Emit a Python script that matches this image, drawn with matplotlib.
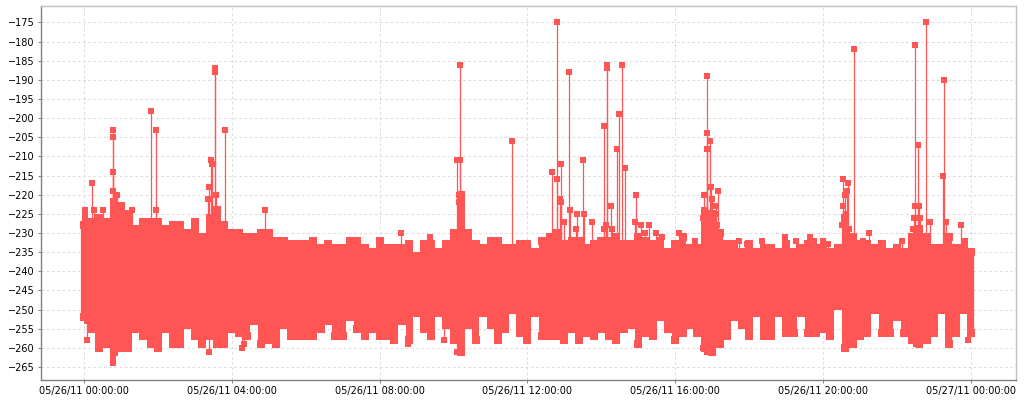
import numpy as np
import pandas as pd
import matplotlib
matplotlib.use('Agg')
import matplotlib.pyplot as plt
import matplotlib.dates as mdates

# upper and lower edge of the dense band, one reading every 12 minutes
band_high = [-228, -227, -226, -227, -222, -223, -225, -229, -227, -227, -227, -229, -228, -228, -230, -227,
             -231, -226, -224, -228, -230, -230, -231, -231, -230, -230, -232, -232, -233, -233, -233,
             -232, -234, -233, -234, -234, -232, -232, -234, -235, -232, -234, -234, -234, -233, -236,
             -233, -233, -235, -233, -230, -220, -230, -233, -234, -232, -232, -234, -234, -233, -233,
             -235, -232, -231, -230, -233, -232, -232, -234, -233, -232, -232, -231, -233, -233, -231,
             -232, -233, -232, -235, -233, -231, -234, -234, -225, -225, -230, -233, -233, -235, -233,
             -235, -234, -234, -235, -233, -235, -234, -233, -234, -234, -235, -234, -226, -231, -233,
             -233, -234, -233, -235, -234, -235, -231, -229, -231, -234, -234, -231, -234, -234, -235]
band_low = [-252, -255, -260, -259, -261, -260, -260, -255, -257, -259, -260, -255, -259, -259, -254, -257,
            -259, -257, -259, -259, -255, -256, -257, -253, -259, -258, -259, -254, -257, -257, -257,
            -257, -255, -253, -257, -257, -252, -255, -257, -255, -257, -257, -258, -253, -258, -251,
            -255, -257, -251, -254, -258, -261, -254, -258, -251, -254, -258, -255, -250, -256, -258,
            -251, -257, -257, -257, -258, -255, -258, -256, -257, -255, -257, -258, -255, -254, -259,
            -256, -257, -252, -255, -258, -256, -254, -256, -260, -261, -259, -257, -252, -254, -257,
            -251, -257, -257, -251, -256, -256, -251, -256, -256, -255, -257, -249, -260, -259, -257,
            -256, -250, -256, -256, -252, -256, -258, -259, -258, -256, -250, -259, -256, -250, -256]

# single readings that stand clear of the band
peak_hours = [0.22, 0.03, 0.03, 0.03, 0.27, 0.51, 0.78, 0.78, 0.78, 0.78, 0.88, 0.97, 1.30, 1.80, 1.95, 1.96,
              3.54, 3.54, 3.44, 3.46, 3.38, 3.35, 3.56, 3.81, 4.89, 8.58, 9.36,
              10.09, 10.17, 10.17, 10.15, 10.15, 10.17, 11.58,
              12.66, 12.79, 12.80, 12.91, 12.88, 12.92, 12.99, 13.12, 13.15, 13.31, 13.34, 13.49, 13.53, 13.74,
              14.07, 14.07, 14.12, 14.14, 14.14, 14.27, 14.29, 14.41, 14.49, 14.57, 14.64, 14.93, 14.91,
              15.07, 15.18, 15.29, 15.48, 15.63, 16.10, 16.53,
              16.75, 16.79, 16.79, 16.85, 16.86, 16.87, 16.93, 16.96, 16.99, 17.10, 17.10, 17.12, 17.15,
              17.72, 17.93, 18.34, 18.97, 19.26, 19.64, 19.75, 20.01, 20.13,
              20.51, 20.54, 20.54, 20.59, 20.61, 20.66, 20.68, 20.70, 20.83, 21.08, 21.24, 22.13,
              22.43, 22.46, 22.48, 22.48, 22.56, 22.59, 22.62, 22.78, 22.89, 23.24, 23.26, 23.32, 23.73, 23.84]
peak_values = [-217, -224, -225, -226, -224, -224, -203, -205, -214, -219, -220, -223, -224, -198, -203, -224,
               -187, -188, -211, -212, -218, -221, -220, -203, -224, -230, -231,
               -211, -211, -186, -220, -222, -224, -206,
               -214, -216, -175, -212, -221, -222, -227, -188, -224, -229, -225, -211, -225, -227,
               -202, -229, -228, -186, -187, -223, -229, -208, -199, -186, -213, -220, -227,
               -228, -230, -228, -230, -231, -230, -232,
               -226, -220, -224, -208, -204, -189, -206, -218, -221, -223, -225, -228, -219,
               -232, -233, -232, -231, -232, -231, -232, -232, -233,
               -228, -216, -223, -220, -225, -219, -217, -229, -182, -232, -230, -232,
               -229, -226, -181, -223, -207, -223, -226, -175, -227, -215, -190, -227, -228, -232]

dip_hours = [0.07, 0.07, 0.78, 0.78, 3.38, 4.27, 4.33, 5.89, 8.39, 8.78, 9.73, 10.09, 10.20, 11.95,
             15.02, 16.02, 16.75, 16.87, 20.63, 20.73, 22.51, 23.92]
dip_values = [-258, -253, -264, -263, -261, -260, -259, -257, -258, -259, -258, -261, -261, -258,
              -259, -258, -260, -261, -260, -259, -259, -258]

red = '#FF5555'
start = pd.Timestamp('2011-05-26')


def to_time(hours):
    return start + pd.to_timedelta(np.asarray(hours), unit='h')


band_time = start + pd.to_timedelta(np.arange(len(band_high)) * 12, unit='min')

plt.rcParams['font.family'] = 'DejaVu Sans'
fig = plt.figure(figsize=(10.24, 4), dpi=100)
ax = fig.add_axes([40.5 / 1024, 20 / 400, 975.5 / 1024, 374 / 400])

# dense band, markers on both edges give the stepped outline
ax.fill_between(band_time, band_low, band_high, step='mid', facecolor=red, edgecolor='none', zorder=3)
ax.vlines(band_time[[0, -1]], [band_low[0], band_low[-1]], [band_high[0], band_high[-1]],
          color=red, linewidth=4.5, zorder=3)
ax.plot(band_time, band_high, 's', color=red, markersize=5.3, markeredgewidth=0, zorder=4)
ax.plot(band_time, band_low, 's', color=red, markersize=5.3, markeredgewidth=0, zorder=4)

# peaks and dips
ax.vlines(to_time(peak_hours), peak_values, -240, color=red, linewidth=0.9, zorder=3)
ax.vlines(to_time(dip_hours), dip_values, -245, color=red, linewidth=0.9, zorder=3)
ax.plot(to_time(peak_hours), peak_values, 's', color=red, markersize=4.6, markeredgewidth=0, zorder=4)
ax.plot(to_time(dip_hours), dip_values, 's', color=red, markersize=4.6, markeredgewidth=0, zorder=4)

ax.set_xlim(to_time([-1.177])[0], to_time([25.22])[0])
ax.set_ylim(-268.4, -170.7)
ax.set_yticks(np.arange(-265, -170, 5))
ax.xaxis.set_major_locator(mdates.HourLocator(byhour=[0, 4, 8, 12, 16, 20]))
ax.xaxis.set_major_formatter(mdates.DateFormatter('%m/%d/%y %H:%M:%S'))
ax.tick_params(axis='both', labelsize=7, length=2, width=0.7, color='#808080', labelcolor='black', pad=2)
ax.grid(True, color='#dcdcdc', linestyle=(0, (2.5, 2.5)), linewidth=0.75, zorder=0)
ax.set_axisbelow(True)

for side in ['left', 'bottom']:
    ax.spines[side].set_color('#808080')
    ax.spines[side].set_linewidth(1.0)
for side in ['top', 'right']:
    ax.spines[side].set_color('#c0c0c0')
    ax.spines[side].set_linewidth(1.0)

fig.savefig('out.png', dpi=100)
